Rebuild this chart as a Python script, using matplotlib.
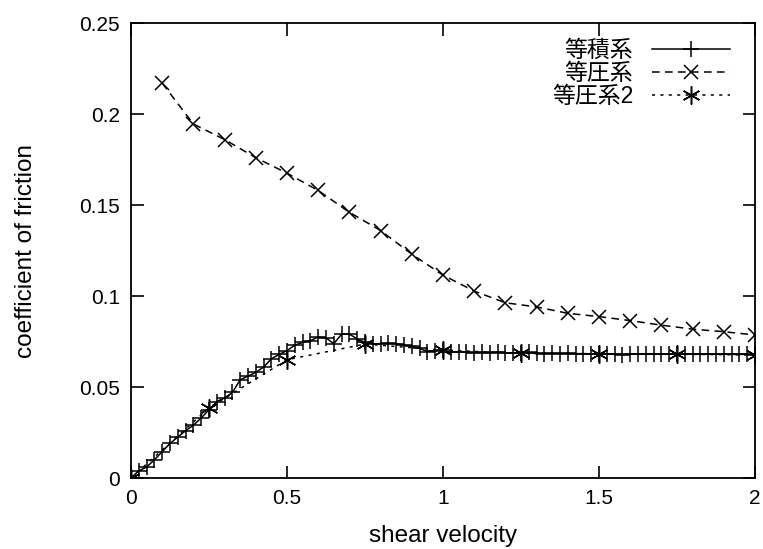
import numpy as np
import matplotlib.pyplot as plt

plt.rcParams['font.family'] = ['Liberation Sans', 'Noto Sans CJK JP']

# isochoric system (step 0.025)
vel_iso = np.arange(81) * 0.025
mu_iso = [0.000, 0.004, 0.006, 0.010, 0.0145, 0.019, 0.0225, 0.026, 0.029, 0.033,
          0.0375, 0.042, 0.044, 0.047, 0.054, 0.056, 0.058, 0.061, 0.0655, 0.068,
          0.070, 0.073, 0.0745, 0.0755, 0.0775, 0.077, 0.0738, 0.079, 0.079, 0.0765,
          0.0745, 0.0738, 0.0738, 0.074, 0.0738, 0.073, 0.0725, 0.0712, 0.0695, 0.070,
          0.0703, 0.069, 0.0695, 0.069, 0.0688, 0.069, 0.0688, 0.0692, 0.0688, 0.0687,
          0.0687, 0.069, 0.0685, 0.0684, 0.0685, 0.0684, 0.0685, 0.0683, 0.0684, 0.0682,
          0.0683, 0.068, 0.0681, 0.0678, 0.0681, 0.068, 0.0681, 0.068, 0.0681, 0.0681,
          0.0682, 0.068, 0.0681, 0.068, 0.0681, 0.068, 0.0681, 0.068, 0.0679, 0.068,
          0.0677]

# isobaric system
vel_bar = [0.1, 0.2, 0.3, 0.4, 0.5, 0.6, 0.7, 0.8, 0.9, 1.0,
           1.1, 1.2, 1.3, 1.4, 1.5, 1.6, 1.7, 1.8, 1.9, 2.0]
mu_bar = [0.217, 0.1945, 0.186, 0.176, 0.1675, 0.158, 0.146, 0.136, 0.123, 0.1115,
          0.1027, 0.0963, 0.094, 0.0905, 0.0887, 0.0865, 0.084, 0.0818, 0.0804, 0.0786]

# isobaric system 2
vel_bar2 = [0.0, 0.25, 0.5, 0.75, 1.0, 1.25, 1.5, 1.75, 2.0]
mu_bar2 = [0.0, 0.0385, 0.065, 0.0736, 0.0703, 0.0685, 0.068, 0.068, 0.0676]

fig = plt.figure(figsize=(7.63, 5.49), dpi=100)
ax = fig.add_axes([0.1717, 0.1293, 0.8178, 0.8287])

ax.plot(vel_iso, mu_iso, color='black', lw=1.1, marker='+', ms=11, mew=1.1,
        label='等積系')
ax.plot(vel_bar, mu_bar, color='black', lw=1.1, ls=(0, (5, 3.5)), marker='x',
        ms=10, mew=1.1, label='等圧系')
ax.plot(vel_bar2, mu_bar2, color='black', lw=1.1, ls=(0, (2, 3.5)), marker=(6, 2, 0),
        ms=13, mew=1.1, label='等圧系2')

ax.set_xlim(0, 2)
ax.set_ylim(0, 0.25)
ax.set_xticks([0, 0.5, 1, 1.5, 2])
ax.set_xticklabels(['0', '0.5', '1', '1.5', '2'])
ax.set_yticks([0, 0.05, 0.1, 0.15, 0.2, 0.25])
ax.set_yticklabels(['0', '0.05', '0.1', '0.15', '0.2', '0.25'])
ax.tick_params(direction='in', length=9, width=1.2, top=True, right=True,
               labelsize=15, pad=8)
for s in ax.spines.values():
    s.set_linewidth(1.3)

ax.set_xlabel('shear velocity', fontsize=17.5, labelpad=12)
ax.set_ylabel('coefficient of friction', fontsize=17.5, labelpad=30)

leg = ax.legend(loc='upper right', bbox_to_anchor=(0.985, 1.0), frameon=False,
                markerfirst=False, fontsize=16.5, handlelength=3.4,
                labelspacing=0.0, handletextpad=0.8, borderpad=0.2)
# right-align the entries like gnuplot keys
for col in leg._legend_handle_box.get_children():
    col.align = 'right'

fig.savefig('out.png', dpi=100)
